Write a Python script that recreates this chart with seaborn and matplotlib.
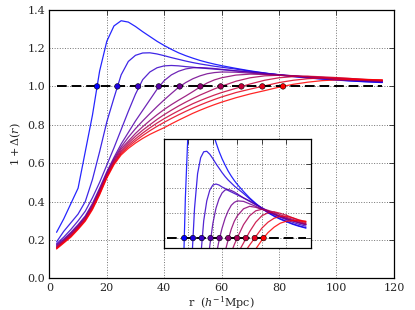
import numpy as np
import pandas as pd
import matplotlib
matplotlib.use("Agg")
import matplotlib.pyplot as plt
import seaborn as sns

# separation grid (h^-1 Mpc)
r = [2.5, 5, 7.5, 10, 12.5, 15, 17.5, 20, 22.5, 25, 27.5, 30, 32.5, 35, 37.5,
     40, 42.5, 45, 47.5, 50, 52.5, 55, 57.5, 60, 65, 70, 75, 80, 85, 90, 95,
     100, 105, 110, 116]

# 1 + Delta(r), one list per curve (blue -> red)
c0 = [0.24, 0.31, 0.39, 0.47, 0.66, 0.85, 1.08, 1.235, 1.315, 1.342, 1.335, 1.312,
      1.285, 1.26, 1.235, 1.213, 1.193, 1.175, 1.16, 1.147, 1.135, 1.125, 1.116,
      1.108, 1.094, 1.081, 1.07, 1.06, 1.051, 1.044, 1.038, 1.033, 1.028, 1.024, 1.02]
c1 = [0.19, 0.245, 0.29, 0.335, 0.40, 0.515, 0.66, 0.815, 0.94, 1.06, 1.13, 1.162,
      1.174, 1.175, 1.169, 1.16, 1.15, 1.141, 1.132, 1.124, 1.117, 1.111, 1.105,
      1.1, 1.09, 1.079, 1.069, 1.06, 1.052, 1.045, 1.039, 1.034, 1.029, 1.025, 1.021]
c2 = [0.18, 0.215, 0.255, 0.30, 0.35, 0.42, 0.50, 0.59, 0.68, 0.775, 0.87, 0.96,
      1.035, 1.075, 1.097, 1.107, 1.109, 1.107, 1.103, 1.1, 1.096, 1.093, 1.09,
      1.087, 1.081, 1.075, 1.068, 1.061, 1.054, 1.048, 1.042, 1.037, 1.032, 1.028, 1.024]
c3 = [0.175, 0.205, 0.24, 0.28, 0.325, 0.39, 0.47, 0.555, 0.63, 0.70, 0.76, 0.82,
      0.875, 0.93, 0.985, 1.03, 1.06, 1.079, 1.091, 1.097, 1.098, 1.096, 1.093,
      1.089, 1.081, 1.074, 1.067, 1.061, 1.055, 1.049, 1.044, 1.039, 1.035, 1.031, 1.027]
c4 = [0.17, 0.20, 0.235, 0.275, 0.32, 0.383, 0.462, 0.548, 0.622, 0.685, 0.735, 0.78,
      0.82, 0.858, 0.895, 0.93, 0.963, 0.995, 1.02, 1.04, 1.055, 1.066, 1.072,
      1.075, 1.074, 1.069, 1.064, 1.058, 1.053, 1.048, 1.043, 1.039, 1.035, 1.031, 1.027]
c5 = [0.165, 0.196, 0.23, 0.27, 0.315, 0.377, 0.456, 0.542, 0.615, 0.675, 0.715, 0.755,
      0.79, 0.822, 0.852, 0.88, 0.905, 0.928, 0.95, 0.973, 0.997, 1.018, 1.034,
      1.045, 1.059, 1.064, 1.062, 1.058, 1.054, 1.049, 1.044, 1.04, 1.036, 1.032, 1.028]
c6 = [0.162, 0.193, 0.226, 0.266, 0.31, 0.372, 0.45, 0.536, 0.608, 0.665, 0.705, 0.74,
      0.772, 0.80, 0.828, 0.853, 0.876, 0.898, 0.918, 0.937, 0.955, 0.971, 0.987,
      1.001, 1.027, 1.045, 1.055, 1.058, 1.056, 1.052, 1.047, 1.042, 1.038, 1.034, 1.029]
c7 = [0.159, 0.19, 0.222, 0.262, 0.306, 0.367, 0.445, 0.531, 0.602, 0.657, 0.695, 0.727,
      0.757, 0.784, 0.809, 0.832, 0.853, 0.873, 0.892, 0.91, 0.926, 0.941, 0.955,
      0.968, 0.99, 1.013, 1.032, 1.045, 1.051, 1.053, 1.05, 1.046, 1.041, 1.036, 1.031]
c8 = [0.156, 0.187, 0.219, 0.258, 0.302, 0.363, 0.44, 0.527, 0.597, 0.65, 0.686, 0.716,
      0.744, 0.769, 0.792, 0.813, 0.833, 0.852, 0.87, 0.887, 0.903, 0.918, 0.932,
      0.945, 0.968, 0.986, 1.003, 1.02, 1.032, 1.04, 1.044, 1.044, 1.041, 1.037, 1.033]
c9 = [0.153, 0.184, 0.215, 0.255, 0.298, 0.358, 0.435, 0.522, 0.592, 0.643, 0.677, 0.705,
      0.729, 0.75, 0.768, 0.785, 0.805, 0.824, 0.842, 0.86, 0.876, 0.891, 0.905,
      0.918, 0.941, 0.961, 0.978, 0.996, 1.011, 1.022, 1.03, 1.034, 1.035, 1.035, 1.034]
curves = [c0, c1, c2, c3, c4, c5, c6, c7, c8, c9]

# r where each curve crosses 1 + Delta = 1
r_cross = [16.6, 23.7, 30.9, 38.1, 45.4, 52.6, 59.7, 66.9, 74.2, 81.4]
level = 1.0

rows = []
for i, c in enumerate(curves):
    for rr, v in zip(r, c):
        rows.append([i, rr, v])
df = pd.DataFrame(rows, columns=["curve", "r", "val"])
dots = pd.DataFrame({"curve": range(len(r_cross)), "r": r_cross,
                     "val": [level] * len(r_cross)})

sns.set_style("white")
plt.rcParams["font.family"] = ["DejaVu Serif"]
plt.rcParams["mathtext.fontset"] = "dejavuserif"
plt.rcParams["xtick.direction"] = "in"
plt.rcParams["ytick.direction"] = "in"

pal = sns.blend_palette(["#0000ff", "#ff0000"], len(curves))

fig = plt.figure(figsize=(4.15, 3.1), dpi=100)
ax = fig.add_axes([0.119, 0.102, 0.830, 0.867])
ins = fig.add_axes([0.395, 0.200, 0.354, 0.352])


def draw(a):
    sns.lineplot(data=df, x="r", y="val", hue="curve", palette=pal, ax=a,
                 legend=False, lw=0.9, alpha=0.85, zorder=2)
    a.plot([r[0], r[-1]], [level, level], ls="--", dashes=(5, 2.5), c="k",
           lw=1.4, zorder=3)
    sns.scatterplot(data=dots, x="r", y="val", hue="curve", palette=pal, ax=a,
                    legend=False, s=16, edgecolor="k", linewidth=0.4, zorder=4)
    a.grid(True, ls=":", c="0.45", lw=0.7)
    a.set_xlim(0, 120)
    a.set_xticks([0, 20, 40, 60, 80, 100, 120])
    a.tick_params(top=True, right=True, length=3.5, width=0.6)
    for s in a.spines.values():
        s.set_color("k")
        s.set_linewidth(0.9)


draw(ax)
ax.set_ylim(0, 1.4)
ax.set_yticks(np.arange(0, 1.41, 0.2))
ax.set_yticklabels([f"{v:.1f}" for v in np.arange(0, 1.41, 0.2)])
ax.tick_params(labelsize=8, pad=3)
ax.set_xlabel(r"r  $(h^{-1}{\rm Mpc})$", fontsize=8, labelpad=1)
ax.set_ylabel(r"$1+\Delta(r)$", fontsize=8, labelpad=3)

draw(ins)
ins.set_ylim(0.98, 1.2)
ins.set_yticks([1.0, 1.05, 1.1, 1.15, 1.2])
ins.set_xticklabels([])
ins.set_yticklabels([])
ins.set_xlabel("")
ins.set_ylabel("")
ins.set_facecolor("white")

fig.savefig("out.png", dpi=100, facecolor="white")
